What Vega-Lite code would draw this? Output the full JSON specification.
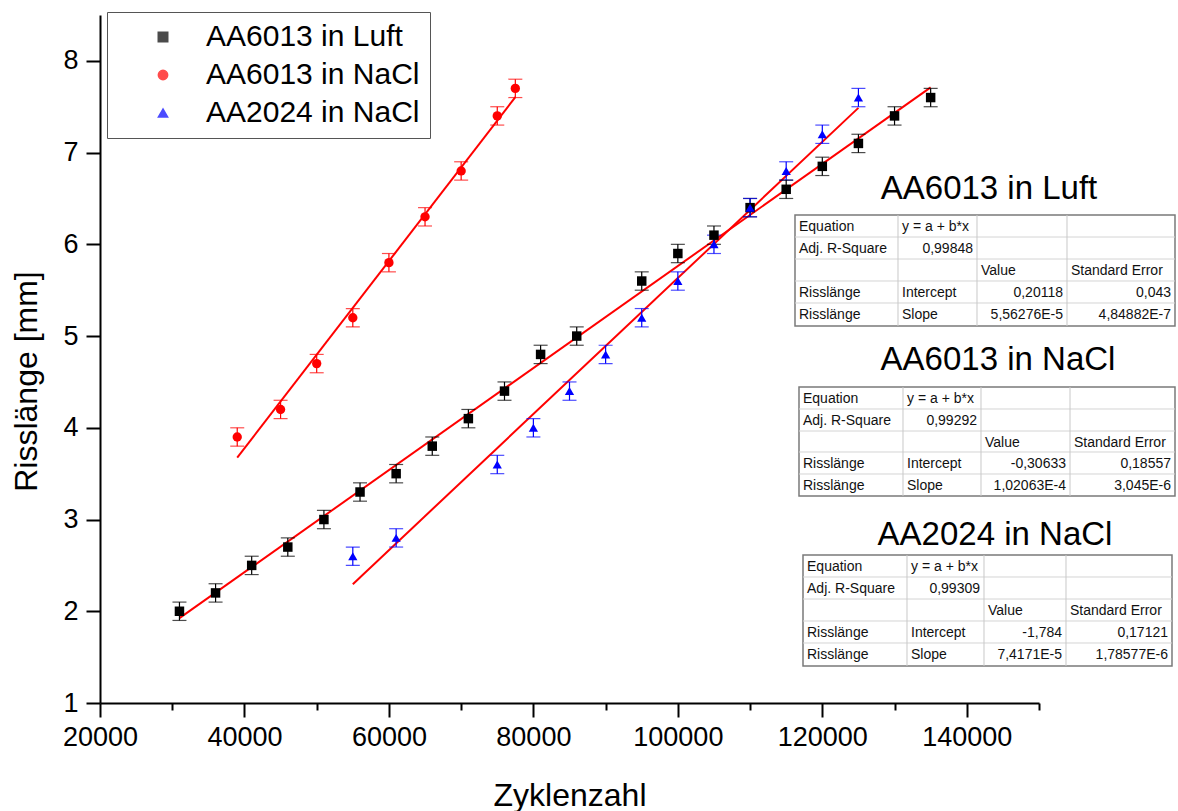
{
  "$schema": "https://vega.github.io/schema/vega-lite/v6.json",
  "width": 939,
  "height": 688,
  "autosize": {"type": "none"},
  "padding": {"left": 100, "top": 15, "right": 139, "bottom": 108},
  "background": "white",
  "config": {"view": {"stroke": null}, "font": "Liberation Sans"},
  "datasets": {
    "points": [
      {"series": "AA6013 in Luft", "x": 31000, "y": 2.0, "err": 0.1},
      {"series": "AA6013 in Luft", "x": 36000, "y": 2.2, "err": 0.1},
      {"series": "AA6013 in Luft", "x": 41000, "y": 2.5, "err": 0.1},
      {"series": "AA6013 in Luft", "x": 46000, "y": 2.7, "err": 0.1},
      {"series": "AA6013 in Luft", "x": 51000, "y": 3.0, "err": 0.1},
      {"series": "AA6013 in Luft", "x": 56000, "y": 3.3, "err": 0.1},
      {"series": "AA6013 in Luft", "x": 61000, "y": 3.5, "err": 0.1},
      {"series": "AA6013 in Luft", "x": 66000, "y": 3.8, "err": 0.1},
      {"series": "AA6013 in Luft", "x": 71000, "y": 4.1, "err": 0.1},
      {"series": "AA6013 in Luft", "x": 76000, "y": 4.4, "err": 0.1},
      {"series": "AA6013 in Luft", "x": 81000, "y": 4.8, "err": 0.1},
      {"series": "AA6013 in Luft", "x": 86000, "y": 5.0, "err": 0.1},
      {"series": "AA6013 in Luft", "x": 95000, "y": 5.6, "err": 0.1},
      {"series": "AA6013 in Luft", "x": 100000, "y": 5.9, "err": 0.1},
      {"series": "AA6013 in Luft", "x": 105000, "y": 6.1, "err": 0.1},
      {"series": "AA6013 in Luft", "x": 110000, "y": 6.4, "err": 0.1},
      {"series": "AA6013 in Luft", "x": 115000, "y": 6.6, "err": 0.1},
      {"series": "AA6013 in Luft", "x": 120000, "y": 6.85, "err": 0.1},
      {"series": "AA6013 in Luft", "x": 125000, "y": 7.1, "err": 0.1},
      {"series": "AA6013 in Luft", "x": 130000, "y": 7.4, "err": 0.1},
      {"series": "AA6013 in Luft", "x": 135000, "y": 7.6, "err": 0.1},
      {"series": "AA6013 in NaCl", "x": 39000, "y": 3.9, "err": 0.1},
      {"series": "AA6013 in NaCl", "x": 45000, "y": 4.2, "err": 0.1},
      {"series": "AA6013 in NaCl", "x": 50000, "y": 4.7, "err": 0.1},
      {"series": "AA6013 in NaCl", "x": 55000, "y": 5.2, "err": 0.1},
      {"series": "AA6013 in NaCl", "x": 60000, "y": 5.8, "err": 0.1},
      {"series": "AA6013 in NaCl", "x": 65000, "y": 6.3, "err": 0.1},
      {"series": "AA6013 in NaCl", "x": 70000, "y": 6.8, "err": 0.1},
      {"series": "AA6013 in NaCl", "x": 75000, "y": 7.4, "err": 0.1},
      {"series": "AA6013 in NaCl", "x": 77500, "y": 7.7, "err": 0.1},
      {"series": "AA2024 in NaCl", "x": 55000, "y": 2.6, "err": 0.1},
      {"series": "AA2024 in NaCl", "x": 61000, "y": 2.8, "err": 0.1},
      {"series": "AA2024 in NaCl", "x": 75000, "y": 3.6, "err": 0.1},
      {"series": "AA2024 in NaCl", "x": 80000, "y": 4.0, "err": 0.1},
      {"series": "AA2024 in NaCl", "x": 85000, "y": 4.4, "err": 0.1},
      {"series": "AA2024 in NaCl", "x": 90000, "y": 4.8, "err": 0.1},
      {"series": "AA2024 in NaCl", "x": 95000, "y": 5.2, "err": 0.1},
      {"series": "AA2024 in NaCl", "x": 100000, "y": 5.6, "err": 0.1},
      {"series": "AA2024 in NaCl", "x": 105000, "y": 6.0, "err": 0.1},
      {"series": "AA2024 in NaCl", "x": 110000, "y": 6.4, "err": 0.1},
      {"series": "AA2024 in NaCl", "x": 115000, "y": 6.8, "err": 0.1},
      {"series": "AA2024 in NaCl", "x": 120000, "y": 7.2, "err": 0.1},
      {"series": "AA2024 in NaCl", "x": 125000, "y": 7.6, "err": 0.1}
    ],
    "fits": [
      {"series": "AA6013 in Luft", "x": 31000, "y": 1.9256},
      {"series": "AA6013 in Luft", "x": 135000, "y": 7.7109},
      {"series": "AA6013 in NaCl", "x": 39000, "y": 3.6741},
      {"series": "AA6013 in NaCl", "x": 77500, "y": 7.6036},
      {"series": "AA2024 in NaCl", "x": 55000, "y": 2.2954},
      {"series": "AA2024 in NaCl", "x": 125000, "y": 7.4874}
    ],
    "boxes": [
      {"tbl": "T1", "x": 116219, "x2": 168828, "y": 6.3198, "y2": 5.1097},
      {"tbl": "T2", "x": 116773, "x2": 168828, "y": 4.4448, "y2": 3.2566},
      {"tbl": "T3", "x": 117327, "x2": 168413, "y": 2.6134, "y2": 1.4034}
    ],
    "hlines": [
      {"tbl": "T1", "x": 116219, "x2": 168828, "y": 6.0799},
      {"tbl": "T1", "x": 116219, "x2": 168828, "y": 5.8401},
      {"tbl": "T1", "x": 116219, "x2": 168828, "y": 5.6003},
      {"tbl": "T1", "x": 116219, "x2": 168828, "y": 5.3605},
      {"tbl": "T2", "x": 116773, "x2": 168828, "y": 4.205},
      {"tbl": "T2", "x": 116773, "x2": 168828, "y": 3.9651},
      {"tbl": "T2", "x": 116773, "x2": 168828, "y": 3.7362},
      {"tbl": "T2", "x": 116773, "x2": 168828, "y": 3.4964},
      {"tbl": "T3", "x": 117327, "x2": 168413, "y": 2.3736},
      {"tbl": "T3", "x": 117327, "x2": 168413, "y": 2.1337},
      {"tbl": "T3", "x": 117327, "x2": 168413, "y": 1.8939},
      {"tbl": "T3", "x": 117327, "x2": 168413, "y": 1.6541}
    ],
    "vlines": [
      {"tbl": "T1", "x": 130479, "y": 6.3198, "y2": 5.1097},
      {"tbl": "T1", "x": 141416, "y": 6.3198, "y2": 5.1097},
      {"tbl": "T1", "x": 153876, "y": 6.3198, "y2": 5.1097},
      {"tbl": "T2", "x": 131171, "y": 4.4448, "y2": 3.2566},
      {"tbl": "T2", "x": 141970, "y": 4.4448, "y2": 3.2566},
      {"tbl": "T2", "x": 154292, "y": 4.4448, "y2": 3.2566},
      {"tbl": "T3", "x": 131725, "y": 2.6134, "y2": 1.4034},
      {"tbl": "T3", "x": 142385, "y": 2.6134, "y2": 1.4034},
      {"tbl": "T3", "x": 153738, "y": 2.6134, "y2": 1.4034}
    ],
    "titles": [
      {"text": "AA6013 in Luft", "x": 143078, "y": 6.4942},
      {"text": "AA6013 in NaCl", "x": 144324, "y": 4.63},
      {"text": "AA2024 in NaCl", "x": 143908, "y": 2.7224}
    ],
    "cells": [
      {"al": "l", "text": "Equation", "x": 116773, "y": 6.1453},
      {"al": "l", "text": "y = a + b*x", "x": 131033, "y": 6.1453},
      {"al": "l", "text": "Adj. R-Square", "x": 116773, "y": 5.9055},
      {"al": "r", "text": "0,99848", "x": 140862, "y": 5.9055},
      {"al": "l", "text": "Value", "x": 141970, "y": 5.6657},
      {"al": "l", "text": "Standard Error", "x": 154430, "y": 5.6657},
      {"al": "l", "text": "Risslänge", "x": 116773, "y": 5.4259},
      {"al": "l", "text": "Intercept", "x": 131033, "y": 5.4259},
      {"al": "r", "text": "0,20118", "x": 153323, "y": 5.4259},
      {"al": "r", "text": "0,043", "x": 168275, "y": 5.4259},
      {"al": "l", "text": "Risslänge", "x": 116773, "y": 5.186},
      {"al": "l", "text": "Slope", "x": 131033, "y": 5.186},
      {"al": "r", "text": "5,56276E-5", "x": 153323, "y": 5.186},
      {"al": "r", "text": "4,84882E-7", "x": 168275, "y": 5.186},

      {"al": "l", "text": "Equation", "x": 117327, "y": 4.2703},
      {"al": "l", "text": "y = a + b*x", "x": 131725, "y": 4.2703},
      {"al": "l", "text": "Adj. R-Square", "x": 117327, "y": 4.0305},
      {"al": "r", "text": "0,99292", "x": 141416, "y": 4.0305},
      {"al": "l", "text": "Value", "x": 142524, "y": 3.7907},
      {"al": "l", "text": "Standard Error", "x": 154845, "y": 3.7907},
      {"al": "l", "text": "Risslänge", "x": 117327, "y": 3.5618},
      {"al": "l", "text": "Intercept", "x": 131725, "y": 3.5618},
      {"al": "r", "text": "-0,30633", "x": 153738, "y": 3.5618},
      {"al": "r", "text": "0,18557", "x": 168275, "y": 3.5618},
      {"al": "l", "text": "Risslänge", "x": 117327, "y": 3.3219},
      {"al": "l", "text": "Slope", "x": 131725, "y": 3.3219},
      {"al": "r", "text": "1,02063E-4", "x": 153738, "y": 3.3219},
      {"al": "r", "text": "3,045E-6", "x": 168275, "y": 3.3219},

      {"al": "l", "text": "Equation", "x": 117881, "y": 2.439},
      {"al": "l", "text": "y = a + b*x", "x": 132279, "y": 2.439},
      {"al": "l", "text": "Adj. R-Square", "x": 117881, "y": 2.1991},
      {"al": "r", "text": "0,99309", "x": 141832, "y": 2.1991},
      {"al": "l", "text": "Value", "x": 142939, "y": 1.9593},
      {"al": "l", "text": "Standard Error", "x": 154292, "y": 1.9593},
      {"al": "l", "text": "Risslänge", "x": 117881, "y": 1.7195},
      {"al": "l", "text": "Intercept", "x": 132279, "y": 1.7195},
      {"al": "r", "text": "-1,784", "x": 153184, "y": 1.7195},
      {"al": "r", "text": "0,17121", "x": 167859, "y": 1.7195},
      {"al": "l", "text": "Risslänge", "x": 117881, "y": 1.4797},
      {"al": "l", "text": "Slope", "x": 132279, "y": 1.4797},
      {"al": "r", "text": "7,4171E-5", "x": 153184, "y": 1.4797},
      {"al": "r", "text": "1,78577E-6", "x": 167859, "y": 1.4797}
    ]
  },
  "encoding": {
    "x": {
      "field": "x",
      "type": "quantitative",
      "scale": {"domain": [20000, 150000], "nice": false, "zero": false},
      "axis": {
        "title": "Zyklenzahl",
        "values": [20000, 30000, 40000, 50000, 60000, 70000, 80000, 90000, 100000, 110000, 120000, 130000, 140000, 150000],
        "format": "d",
        "labelExpr": "datum.value % 20000 === 0 && datum.value < 150000 ? datum.label : ''",
        "tickSize": {"condition": {"test": "datum.value % 20000 === 0", "value": 14}, "value": 7},
        "grid": false,
        "domainColor": "black",
        "domainWidth": 2,
        "tickColor": "black",
        "tickWidth": 2,
        "labelFont": "Liberation Sans",
        "labelFontSize": 27,
        "labelColor": "black",
        "labelPadding": 7,
        "labelFlush": false,
        "labelOverlap": false,
        "titleFont": "Liberation Sans",
        "titleFontSize": 32,
        "titleFontWeight": "normal",
        "titleColor": "black",
        "titlePadding": 30
      }
    },
    "y": {
      "field": "y",
      "type": "quantitative",
      "scale": {"domain": [1, 8.5], "nice": false, "zero": false},
      "axis": {
        "title": "Risslänge [mm]",
        "values": [1, 1.5, 2, 2.5, 3, 3.5, 4, 4.5, 5, 5.5, 6, 6.5, 7, 7.5, 8, 8.5],
        "format": "d",
        "labelExpr": "datum.value % 1 === 0 ? datum.label : ''",
        "tickSize": {"condition": {"test": "datum.value % 1 === 0", "value": 14}, "value": 6},
        "grid": false,
        "domainColor": "black",
        "domainWidth": 2,
        "tickColor": "black",
        "tickWidth": 2,
        "labelFont": "Liberation Sans",
        "labelFontSize": 27,
        "labelColor": "black",
        "labelPadding": 8,
        "labelOverlap": false,
        "titleFont": "Liberation Sans",
        "titleFontSize": 32,
        "titleFontWeight": "normal",
        "titleColor": "black",
        "titlePadding": 19,
        "titleY": 366
      }
    }
  },
  "layer": [
    {
      "data": {"name": "fits"},
      "mark": {"type": "line", "color": "#ff0000", "strokeWidth": 2},
      "encoding": {"detail": {"field": "series", "type": "nominal"}}
    },
    {
      "data": {"name": "points"},
      "mark": {"type": "errorbar", "ticks": {"size": 14}, "thickness": 1.2},
      "encoding": {
        "yError": {"field": "err"},
        "color": {
          "field": "series",
          "type": "nominal",
          "scale": {"domain": ["AA6013 in Luft", "AA6013 in NaCl", "AA2024 in NaCl"], "range": ["#000000", "#ff0000", "#0000ff"]}
        }
      }
    },
    {
      "data": {"name": "points"},
      "mark": {"type": "point", "filled": true, "opacity": 1},
      "encoding": {
        "size": {
          "field": "series",
          "type": "nominal",
          "scale": {"domain": ["AA6013 in Luft", "AA6013 in NaCl", "AA2024 in NaCl"], "range": [90, 85, 230]},
          "legend": null
        },
        "color": {
          "field": "series",
          "type": "nominal",
          "scale": {"domain": ["AA6013 in Luft", "AA6013 in NaCl", "AA2024 in NaCl"], "range": ["#000000", "#ff0000", "#0000ff"]},
          "legend": {
            "orient": "none", "legendX": 7, "legendY": -3, "title": null,
            "labelFont": "Liberation Sans", "labelFontSize": 30, "labelColor": "black", "labelLimit": 400,
            "symbolSize": 64, "symbolOffset": 31, "labelOffset": 28, "symbolOpacity": 1,
            "padding": 10, "rowPadding": 8,
            "strokeColor": "#555555", "fillColor": "white"
          }
        },
        "shape": {
          "field": "series",
          "type": "nominal",
          "scale": {"domain": ["AA6013 in Luft", "AA6013 in NaCl", "AA2024 in NaCl"], "range": ["square", "circle", "triangle-up"]},
          "legend": {
            "orient": "none", "legendX": 7, "legendY": -3, "title": null,
            "labelFont": "Liberation Sans", "labelFontSize": 30, "labelColor": "black", "labelLimit": 400,
            "symbolSize": 64, "symbolOffset": 31, "labelOffset": 28, "symbolOpacity": 1,
            "padding": 10, "rowPadding": 8,
            "strokeColor": "#555555", "fillColor": "white"
          }
        }
      }
    },
    {
      "data": {"name": "boxes"},
      "mark": {"type": "rect", "fill": "white", "stroke": "#7a7a7a", "strokeWidth": 1.5},
      "encoding": {
        "x2": {"field": "x2"},
        "y2": {"field": "y2"}
      }
    },
    {
      "data": {"name": "hlines"},
      "mark": {"type": "rule", "color": "#d4d4d4", "strokeWidth": 1},
      "encoding": {"x2": {"field": "x2"}}
    },
    {
      "data": {"name": "vlines"},
      "mark": {"type": "rule", "color": "#c8c8c8", "strokeWidth": 1},
      "encoding": {"y2": {"field": "y2"}}
    },
    {
      "data": {"name": "cells"},
      "transform": [{"filter": "datum.al === 'l'"}],
      "mark": {"type": "text", "align": "left", "baseline": "alphabetic", "font": "Liberation Sans", "fontSize": 14, "color": "#111111"},
      "encoding": {"text": {"field": "text"}}
    },
    {
      "data": {"name": "cells"},
      "transform": [{"filter": "datum.al === 'r'"}],
      "mark": {"type": "text", "align": "right", "baseline": "alphabetic", "font": "Liberation Sans", "fontSize": 14, "color": "#111111"},
      "encoding": {"text": {"field": "text"}}
    },
    {
      "data": {"name": "titles"},
      "mark": {"type": "text", "align": "center", "baseline": "alphabetic", "font": "Liberation Sans", "fontSize": 33, "color": "black"},
      "encoding": {"text": {"field": "text"}}
    }
  ]
}
